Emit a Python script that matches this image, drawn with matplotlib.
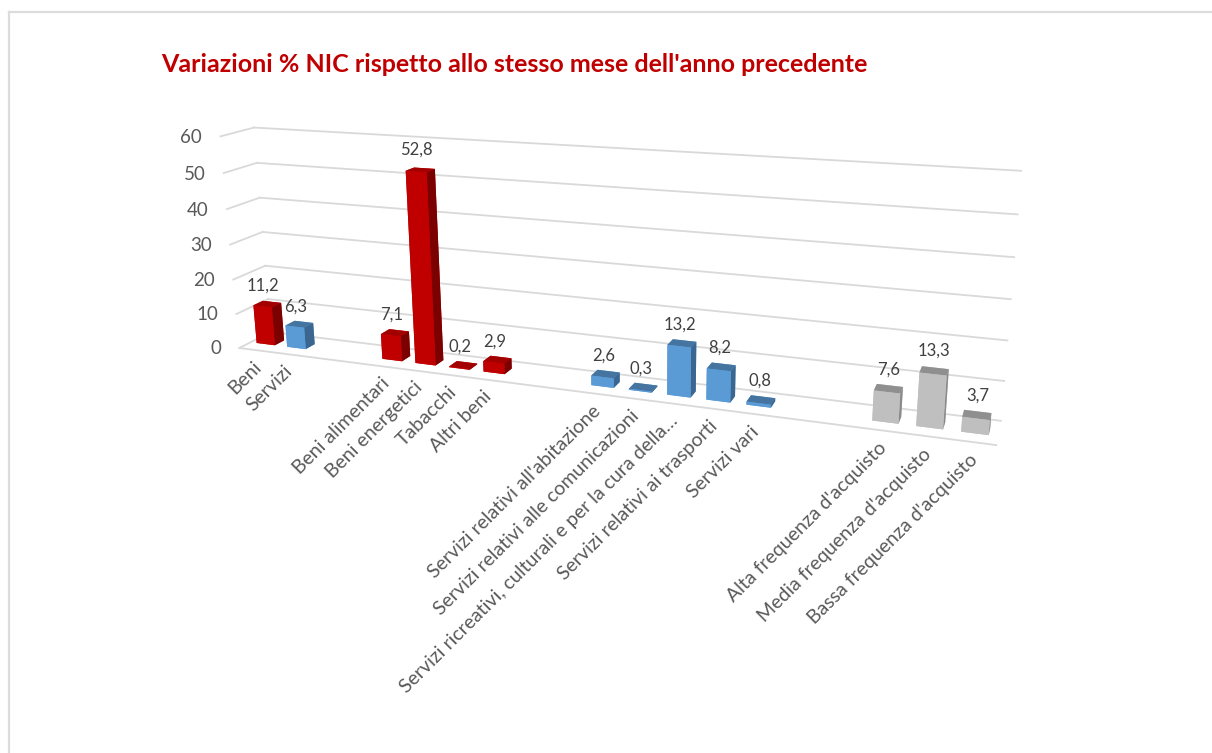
import matplotlib
matplotlib.use("Agg")
import matplotlib.pyplot as plt
from matplotlib.lines import Line2D
from mpl_toolkits.mplot3d import proj3d

plt.rcParams['font.family'] = ['Lato', 'DejaVu Sans']

# Data: blank slots keep the gaps between the groups
categories = ["Beni", "Servizi", "", "",
              "Beni alimentari", "Beni energetici", "Tabacchi", "Altri beni", "", "",
              "Servizi relativi all'abitazione", "Servizi relativi alle comunicazioni",
              "Servizi ricreativi, culturali e per la cura della…",
              "Servizi relativi ai trasporti", "Servizi vari", "", "",
              "Alta frequenza d'acquisto", "Media frequenza d'acquisto",
              "Bassa frequenza d'acquisto"]
values = [11.2, 6.3, None, None,
          7.1, 52.8, 0.2, 2.9, None, None,
          2.6, 0.3, 13.2, 8.2, 0.8, None, None,
          7.6, 13.3, 3.7]
groups = ["red", "blue", None, None,
          "red", "red", "red", "red", None, None,
          "blue", "blue", "blue", "blue", "blue", None, None,
          "grey", "grey", "grey"]
z_ticks = [0, 10, 20, 30, 40, 50, 60]
title = "Variazioni % NIC rispetto allo stesso mese dell'anno precedente"

# faces of bar3d: bottom, top, front, back, left, right
palette = {
    "red": ["#c00000", "#a30000", "#c00000", "#c00000", "#c00000", "#7b0000"],
    "blue": ["#5b9bd5", "#44749f", "#5b9bd5", "#5b9bd5", "#5b9bd5", "#3b6690"],
    "grey": ["#bfbfbf", "#8f8f8f", "#bfbfbf", "#bfbfbf", "#bfbfbf", "#8a8a8a"],
}
grid_color = "#d9d9d9"
text_color = "#595959"

W, H = 1212, 753
bar_width = 0.6
bar_depth = 0.3

fig = plt.figure(figsize=(W / 100, H / 100), dpi=100)

# camera fitted to the box of the original chart
cx, cy, side = 574.66, 472.46, 818.85
ax = fig.add_axes([(cx - side / 2) / W, (cy - side / 2) / H, side / W, side / H], projection="3d")
ax.set_xlim(0, len(categories), view_margin=0)
ax.set_ylim(0, 1, view_margin=0)
ax.set_zlim(0, 60, view_margin=0)
ax.view_init(15.613, -68.684, 0.719)
ax.set_proj_type("persp", focal_length=0.2902)
ax.set_box_aspect((3.3926, 0.2529, 1))
ax.set_axis_off()
ax.computed_zorder = False


# 3d text can't rotate freely, so go through the projected position
def flat_text(x, y, z, s, **kw):
    sx, sy, _ = proj3d.proj_transform(x, y, z, ax.get_proj())
    return ax.text2D(sx, sy, s, transform=ax.transData, clip_on=False, zorder=40, **kw)


# gridlines on the back wall and the left wall
n = len(categories)
for z in z_ticks:
    ax.plot([0, n], [1, 1], [z, z], color=grid_color, lw=1.3, zorder=1, clip_on=False)
    ax.plot([0, 0], [0, 1], [z, z], color=grid_color, lw=1.3, zorder=1, clip_on=False)
    flat_text(-0.6, 0, z - 0.7, str(z), ha="right", va="center", fontsize=13.5, color=text_color)
ax.plot([0, n], [0, 0], [0, 0], color=grid_color, lw=1.3, zorder=1, clip_on=False)

# bars
for i, (label, value, group) in enumerate(zip(categories, values, groups)):
    if value is None:
        continue
    bars = ax.bar3d(i + 0.5 - bar_width / 2, 0.5 - bar_depth / 2, 0, bar_width, bar_depth, value,
                    color=palette[group], shade=False, zorder=2 + i)
    bars.set_clip_on(False)
    flat_text(i + 0.5, 0.4, value + 3.4, f"{value:.1f}".replace(".", ","), ha="center", va="bottom",
              fontsize=12, color="#404040")
    flat_text(i + 0.42, 0, -2.4, label, rotation=45, rotation_mode="anchor", ha="right", va="top",
              fontsize=14, color=text_color)

fig.text(161 / W, 1 - 65 / H, title, color="#c00000", fontsize=18, fontweight="bold", va="center")

# chart area border, cut off on the right and at the bottom of the picture
fig.add_artist(Line2D([9 / W, 9 / W], [0, 1 - 12 / H], color="#dcdcdc", lw=1.6))
fig.add_artist(Line2D([9 / W, 1], [1 - 12 / H, 1 - 12 / H], color="#dcdcdc", lw=1.6))

fig.savefig("out.png", dpi=100)
